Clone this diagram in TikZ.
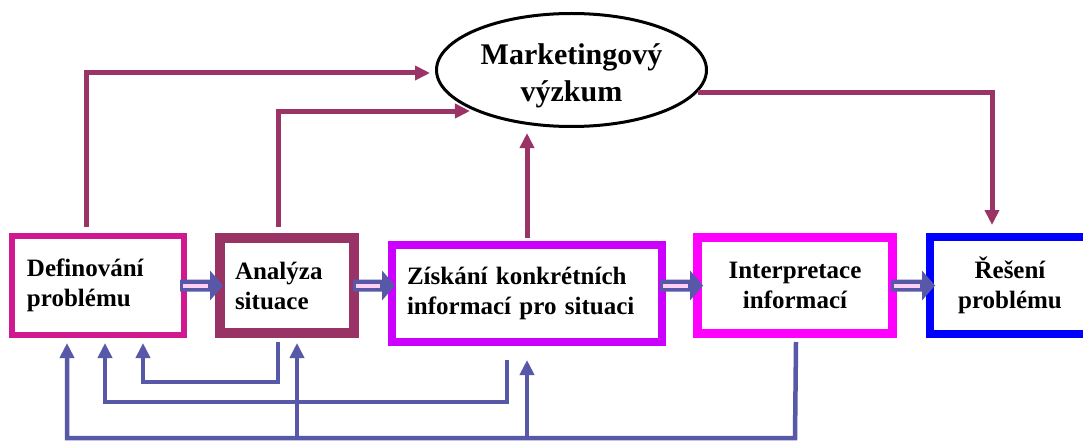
\documentclass[tikz,border=0pt]{standalone}
\usepackage{fontspec}
\setmainfont{Liberation Serif}
\usetikzlibrary{arrows.meta, positioning, shapes.geometric, calc}
\definecolor{defPink}{HTML}{D0188F}
\definecolor{anaMaroon}{HTML}{993366}
\definecolor{zisViolet}{HTML}{CC00FF}
\definecolor{intMagenta}{HTML}{FF00FF}
\definecolor{resBlue}{HTML}{0000FF}
\definecolor{linkMaroon}{HTML}{9B3466}
\definecolor{backBlue}{HTML}{5858A8}
\definecolor{arrPink}{HTML}{FFD0F4}

\begin{document}
\begin{tikzpicture}[x=1pt, y=1pt,
    node distance=28pt,
    procbox/.style={rectangle, draw, fill=white,
                 font=\fontsize{25}{30}\selectfont\bfseries,
                 minimum height=96pt, inner sep=2pt},
    leftbox/.style={procbox, align=left, inner xsep=15pt},
    research/.style={ellipse, draw=black, line width=3pt, fill=white,
                 minimum width=270pt, minimum height=113pt, inner sep=0pt,
                 align=center, font=\fontsize{30}{37}\selectfont\bfseries},
    fatbody/.style={fill=backBlue},
    fatcore/.style={draw=arrPink, line width=4pt, shorten <=3pt, shorten >=15pt},
    mr/.style={draw=linkMaroon, line width=5pt,
               -{Triangle[length=15pt, width=14pt]}, shorten >=5pt},
    fb/.style={draw=backBlue, line width=4.5pt,
               -{Triangle[length=15pt, width=14pt]}, shorten >=5pt},
  ]
    \useasboundingbox (0,0) rectangle (1083,440);

    \node[leftbox, draw=defPink, line width=6pt, minimum height=99pt,
          text width=142pt] (def) at (98,154.5) {Definování\\problému};
    \node[leftbox, draw=anaMaroon, line width=10pt, minimum height=95pt,
          text width=104pt, right=of def] (ana) {Analýza\\situace};
    \node[leftbox, draw=zisViolet, line width=8pt, minimum height=97pt,
          text width=240pt, right=29pt of ana, yshift=-8pt] (zis)
          {Získání konkrétních\\informací pro situaci};
    \node[procbox, draw=intMagenta, line width=9pt, minimum width=195pt,
          align=center, right=27pt of zis, yshift=8pt] (int) {Interpretace\\informací};
    \node[procbox, draw=resBlue, line width=8pt, minimum width=160pt,
          minimum height=97pt, align=center, right=29pt of int] (res) {Řešení\\problému};

    \node[research] (mv) at (571.5,370) {\rule{0pt}{33pt}Marketingový\\výzkum};

    \coordinate (p1) at ([xshift=-7pt]def.east);
    \coordinate (q1) at ([xshift=8pt]ana.west);
    \coordinate (p2) at ([xshift=-6pt]ana.east);
    \coordinate (q2) at ($(zis.west |- ana.east)+(7,0)$);
    \coordinate (p3) at ($(zis.east |- ana.east)+(-6,0)$);
    \coordinate (q3) at ([xshift=10pt]int.west);
    \coordinate (p4) at ([xshift=-6pt]int.east);
    \coordinate (q4) at ([xshift=9pt]res.west);

    \fill[fatbody] ([yshift=6pt]p1) -- ([xshift=-13pt, yshift=6pt]q1) -- ([xshift=-13pt, yshift=15pt]q1)
      -- (q1) -- ([xshift=-13pt, yshift=-15pt]q1) -- ([xshift=-13pt, yshift=-6pt]q1) -- ([yshift=-6pt]p1) -- cycle;
    \draw[fatcore] (p1) -- (q1);
    \fill[fatbody] ([yshift=6pt]p2) -- ([xshift=-13pt, yshift=6pt]q2) -- ([xshift=-13pt, yshift=15pt]q2)
      -- (q2) -- ([xshift=-13pt, yshift=-15pt]q2) -- ([xshift=-13pt, yshift=-6pt]q2) -- ([yshift=-6pt]p2) -- cycle;
    \draw[fatcore] (p2) -- (q2);
    \fill[fatbody] ([yshift=6pt]p3) -- ([xshift=-13pt, yshift=6pt]q3) -- ([xshift=-13pt, yshift=15pt]q3)
      -- (q3) -- ([xshift=-13pt, yshift=-15pt]q3) -- ([xshift=-13pt, yshift=-6pt]q3) -- ([yshift=-6pt]p3) -- cycle;
    \draw[fatcore] (p3) -- (q3);
    \fill[fatbody] ([yshift=6pt]p4) -- ([xshift=-13pt, yshift=6pt]q4) -- ([xshift=-13pt, yshift=15pt]q4)
      -- (q4) -- ([xshift=-13pt, yshift=-15pt]q4) -- ([xshift=-13pt, yshift=-6pt]q4) -- ([yshift=-6pt]p4) -- cycle;
    \draw[fatcore] (p4) -- (q4);

    \draw[mr, shorten <=6pt] ([xshift=-12pt]def.north) |- ([yshift=-3pt]mv.west);
    \draw[mr, shorten <=6pt] ([xshift=-9pt]ana.north) |- (mv.south west);
    \draw[mr, shorten <=3pt] (zis.north) -- (zis.north |- mv.south);
    \draw[mr, shorten >=8pt] (mv.-10) -| ([xshift=-18pt]res.north);

    \coordinate (low) at ([yshift=-100pt]int.south);
    \draw[fb] ([xshift=1pt, yshift=-4pt]int.south) -- (low) -| ([xshift=-31pt]def.south);
    \draw[fb] ([xshift=-20pt, yshift=-14pt]zis.south) -- ++(0,-42) -| ([xshift=7pt]def.south);
    \draw[fb] ([xshift=-9pt, yshift=-4pt]ana.south) -- ++(0,-40) -| ([xshift=45pt]def.south);
    \draw[fb] (low -| ana.south) ++(10pt,0) -- ([xshift=10pt]ana.south);
    \draw[fb, shorten >=14pt] (low -| zis.south) -- (zis.south);
  \end{tikzpicture}
\end{document}
